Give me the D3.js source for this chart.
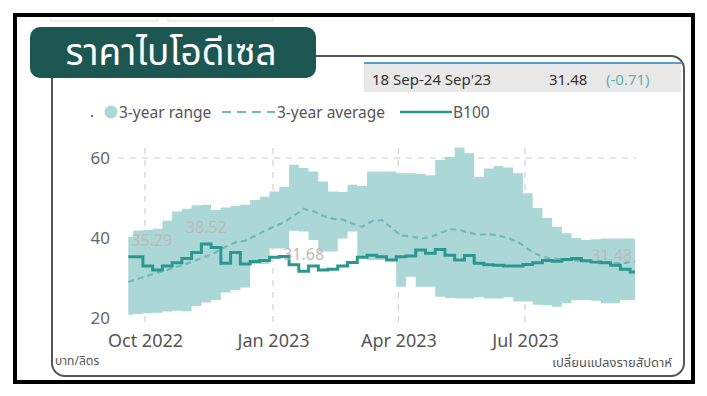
<!DOCTYPE html>
<html>
<head>
<meta charset="utf-8">
<script src="https://cdn.jsdelivr.net/npm/d3@7"></script>
<style>
  body { margin: 0; background: #fff; }
  text { font-family: "Noto Sans", "Open Sans", sans-serif; }
</style>
</head>
<body>
<script>
// week start dates (Monday)
const weeks = [
  "2022-09-19","2022-09-26","2022-10-03","2022-10-10","2022-10-17","2022-10-24","2022-10-31",
  "2022-11-07","2022-11-14","2022-11-21","2022-11-28","2022-12-05","2022-12-12","2022-12-19",
  "2022-12-26","2023-01-02","2023-01-09","2023-01-16","2023-01-23","2023-01-30","2023-02-06",
  "2023-02-13","2023-02-20","2023-02-27","2023-03-06","2023-03-13","2023-03-20","2023-03-27",
  "2023-04-03","2023-04-10","2023-04-17","2023-04-24","2023-05-01","2023-05-08","2023-05-15",
  "2023-05-22","2023-05-29","2023-06-05","2023-06-12","2023-06-19","2023-06-26","2023-07-03",
  "2023-07-10","2023-07-17","2023-07-24","2023-07-31","2023-08-07","2023-08-14","2023-08-21",
  "2023-08-28","2023-09-04","2023-09-11","2023-09-18"
];
const b100 = [
  35.29, 35.3, 33.0, 32.0, 33.0, 33.8, 34.9, 36.4, 38.52, 37.6,
  33.7, 36.4, 33.5, 34.1, 34.4, 35.2, 35.4, 33.3, 31.68, 33.0,
  32.0, 32.2, 33.0, 33.9, 35.2, 35.7, 35.3, 34.5, 35.3, 35.5,
  37.0, 36.2, 37.1, 35.7, 34.5, 35.6, 33.7, 33.3, 33.2, 33.0,
  33.0, 33.4, 33.8, 34.4, 34.2, 34.6, 34.9, 34.3, 34.0, 33.8,
  33.2, 32.19, 31.48
];
const avg3y = [
  29.0, 29.8, 30.6, 31.3, 32.0, 32.8, 33.6, 34.5, 35.4, 36.5,
  37.8, 38.9, 39.3, 40.5, 41.8, 42.9, 44.0, 45.5, 47.3, 46.7,
  45.5, 44.8, 44.6, 43.6, 42.8, 44.2, 44.5, 42.6, 40.6, 40.4,
  39.9, 40.2, 41.2, 42.2, 42.0, 41.3, 40.8, 41.0, 40.6, 40.0,
  39.0, 37.3, 35.8, 35.0, 34.8, 34.5, 34.3, 34.2, 34.0, 33.8,
  33.7, 33.8, 34.1
];
const rangeHigh = [
  40.3, 41.9, 42.0, 42.3, 44.3, 46.6, 47.3, 48.2, 48.3, 47.0,
  47.6, 48.0, 48.3, 49.5, 50.3, 51.6, 52.8, 58.3, 57.5, 56.6,
  54.1, 51.6, 51.5, 53.3, 53.0, 56.6, 56.6, 56.6, 56.2, 56.2,
  56.0, 55.7, 59.5, 60.3, 62.6, 61.2, 55.3, 57.4, 58.0, 57.6,
  56.2, 51.2, 47.5, 45.0, 42.8, 41.2, 40.0, 39.5, 39.7, 39.9,
  39.9, 39.9, 39.9
];
const rangeLow = [
  20.8, 21.0, 21.2, 21.3, 21.6, 21.8, 21.7, 23.0, 23.9, 24.5,
  26.4, 27.0, 27.6, 33.5, 33.5, 37.4, 37.4, 41.8, 41.6, 39.5,
  36.6, 36.6, 39.9, 41.6, 35.3, 34.5, 34.5, 34.5, 27.8, 30.3,
  27.8, 27.8, 25.3, 25.0, 24.9, 24.9, 25.2, 24.9, 24.9, 25.2,
  24.1, 24.1, 23.3, 23.2, 22.8, 23.7, 24.5, 24.5, 24.3, 23.7,
  23.7, 24.5, 24.5
];
const yTicks = [20, 40, 60];
const xTicks = ["2022-10-01", "2023-01-01", "2023-04-01", "2023-07-01"];
const labelIdx = [0, 8, 18, 52];

const title = "ราคาไบโอดีเซล";
const periodText = "18 Sep-24 Sep'23";
const lastValue = "31.48";
const lastChange = "(-0.71)";

const parse = d3.timeParse("%Y-%m-%d");
const data = weeks.map((w, i) => ({
  date: parse(w), b100: b100[i], avg: avg3y[i], hi: rangeHigh[i], lo: rangeLow[i]
}));

const W = 707, H = 396;
const svg = d3.select("body").append("svg").attr("width", W).attr("height", H);

const x = d3.scaleTime()
  .domain([parse(xTicks[0]), parse(xTicks[3])])
  .range([145, 525]);
const y = d3.scaleLinear().domain([20, 60]).range([318, 158]);

const bandColor = "#acd7d7";
const lineColor = "#2a9890";
const avgColor = "#72bab6";

// outer frame
svg.append("rect").attr("x", 15).attr("y", 15).attr("width", 678).attr("height", 367)
  .attr("fill", "none").attr("stroke", "#000").attr("stroke-width", 4);

// faint tab boxes at top
svg.append("path").attr("d", "M51,17V21H157V17M168,17V21H273V17")
  .attr("fill", "none").attr("stroke", "#ddd").attr("stroke-width", 1);

// rounded panel
const r = 13;
svg.append("path")
  .attr("d", `M316,56H${684 - r}A${r},${r} 0 0 1 684,${56 + r}V${376 - r}A${r},${r} 0 0 1 ${684 - r},376H${52 + r}A${r},${r} 0 0 1 52,${376 - r}V77`)
  .attr("fill", "none").attr("stroke", "#555").attr("stroke-width", 2);

// title
svg.append("rect").attr("x", 30).attr("y", 27).attr("width", 286).attr("height", 51)
  .attr("rx", 10).attr("fill", "#1c5752");
svg.append("text").attr("x", 171).attr("y", 65).attr("text-anchor", "middle")
  .attr("fill", "#fff").attr("font-size", 37)
  .style("font-family", "'Noto Sans Thai', 'Noto Sans', sans-serif")
  .text(title);

// tooltip box
svg.append("rect").attr("x", 364).attr("y", 64).attr("width", 317).attr("height", 28).attr("fill", "#e8e8e8");
svg.append("line").attr("x1", 364).attr("x2", 682).attr("y1", 63).attr("y2", 63)
  .attr("stroke", "#5b9bd5").attr("stroke-width", 2);
const tt = svg.append("g").attr("font-size", 15);
tt.append("text").attr("x", 372).attr("y", 85).attr("fill", "#333").text(periodText);
tt.append("text").attr("x", 549).attr("y", 85).attr("fill", "#333").text(lastValue);
tt.append("text").attr("x", 606).attr("y", 85).attr("fill", "#5fb3ad").text(lastChange);

// legend
const lg = svg.append("g").attr("font-size", 15.5).attr("fill", "#555");
lg.append("text").attr("x", 90).attr("y", 117).text(".");
lg.append("circle").attr("cx", 111).attr("cy", 112).attr("r", 6.5).attr("fill", bandColor);
lg.append("text").attr("x", 119).attr("y", 118).text("3-year range");
lg.append("line").attr("x1", 222).attr("x2", 275).attr("y1", 112).attr("y2", 112)
  .attr("stroke", avgColor).attr("stroke-width", 2).attr("stroke-dasharray", "9,6");
lg.append("text").attr("x", 277).attr("y", 118).text("3-year average");
lg.append("line").attr("x1", 400).attr("x2", 452).attr("y1", 112).attr("y2", 112)
  .attr("stroke", lineColor).attr("stroke-width", 2.5);
lg.append("text").attr("x", 453).attr("y", 118).text("B100");

// gridlines
const grid = svg.append("g").attr("stroke", "#c8c8c8").attr("stroke-width", 1).attr("stroke-dasharray", "6,6");
grid.append("line").attr("x1", 118).attr("x2", 636).attr("y1", y(60)).attr("y2", y(60));
grid.selectAll(".v").data(xTicks.map(parse)).join("line")
  .attr("x1", d => x(d)).attr("x2", d => x(d))
  .attr("y1", y(62.5)).attr("y2", y(19));

// band
const area = d3.area().curve(d3.curveStep)
  .x(d => x(d.date)).y0(d => y(d.lo)).y1(d => y(d.hi));
svg.append("path").datum(data).attr("d", area).attr("fill", bandColor);

// 3-year average
svg.append("path").datum(data)
  .attr("d", d3.line().x(d => x(d.date)).y(d => y(d.avg)))
  .attr("fill", "none").attr("stroke", avgColor).attr("stroke-width", 2.2)
  .attr("stroke-dasharray", "6,4");

// B100
svg.append("path").datum(data)
  .attr("d", d3.line().curve(d3.curveStep).x(d => x(d.date)).y(d => y(d.b100)))
  .attr("fill", "none").attr("stroke", lineColor).attr("stroke-width", 3);

// data labels
svg.selectAll(".lbl").data(labelIdx).join("text")
  .attr("x", i => x(data[i].date) + (i === 0 ? 3 : i === data.length - 1 ? -3 : 0))
  .attr("y", i => y(data[i].b100) - 11)
  .attr("text-anchor", i => i === 0 ? "start" : i === data.length - 1 ? "end" : "middle")
  .attr("font-size", 16).attr("fill", "#bbb")
  .text(i => data[i].b100.toFixed(2));

// axes
const yAxis = svg.append("g").attr("transform", "translate(118,0)")
  .call(d3.axisLeft(y).tickValues(yTicks).tickSize(0).tickPadding(8));
yAxis.select(".domain").remove();
yAxis.selectAll("text").attr("font-size", 17).attr("fill", "#666").style("font-family", "'Noto Sans', sans-serif");

const xAxis = svg.append("g").attr("transform", `translate(0,${y(20)})`)
  .call(d3.axisBottom(x).tickValues(xTicks.map(parse)).tickFormat(d3.timeFormat("%b %Y")).tickSize(0).tickPadding(16));
xAxis.select(".domain").remove();
xAxis.selectAll("text").attr("font-size", 18).attr("fill", "#555").style("font-family", "'Noto Sans', sans-serif");

// footer texts
svg.append("text").attr("x", 55).attr("y", 365).attr("font-size", 12).attr("fill", "#555")
  .style("font-family", "'Noto Sans Thai', 'Noto Sans', sans-serif").text("บาท/ลิตร");
svg.append("text").attr("x", 672).attr("y", 367).attr("text-anchor", "end").attr("font-size", 13).attr("fill", "#555")
  .style("font-family", "'Noto Sans Thai', 'Noto Sans', sans-serif").text("เปลี่ยนแปลงรายสัปดาห์");
</script>
</body>
</html>
